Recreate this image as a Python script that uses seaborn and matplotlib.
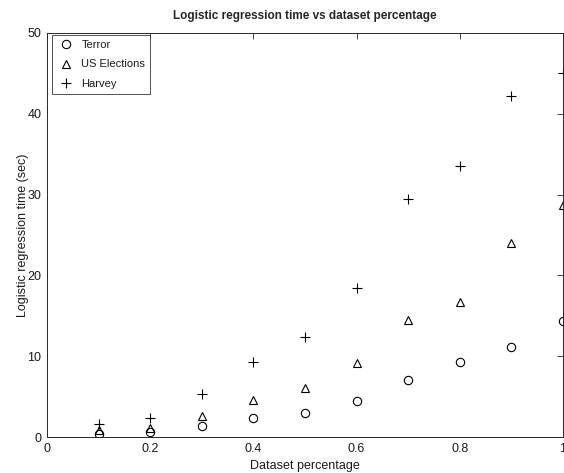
import matplotlib
matplotlib.use("Agg")
import matplotlib.pyplot as plt
import seaborn as sns
import pandas as pd

pct = [0.1, 0.2, 0.3, 0.4, 0.5, 0.6, 0.7, 0.8, 0.9, 1.0]
terror = [0.4, 0.6, 1.3, 2.3, 3.0, 4.5, 7.0, 9.3, 11.2, 14.3]
us_elections = [0.9, 1.1, 2.6, 4.6, 6.1, 9.1, 14.5, 16.7, 24.0, 28.7]
harvey = [1.6, 2.4, 5.3, 9.3, 12.4, 18.4, 29.4, 33.5, 42.2, 45.0]
series_names = ["Terror", "US Elections", "Harvey"]
xticks = [0, 0.2, 0.4, 0.6, 0.8, 1]
yticks = [0, 10, 20, 30, 40, 50]

sns.set_style("white")
plt.rcParams['font.family'] = ['Liberation Sans', 'DejaVu Sans']

fig = plt.figure(figsize=(5.64, 4.73), dpi=100)
ax = fig.add_axes([47/564, 36/473, 516/564, 404/473])

markers = ['o', '^', '+']
for name, vals, m in zip(series_names, [terror, us_elections, harvey], markers):
    df = pd.DataFrame({"x": pct, "y": vals})
    sns.lineplot(data=df, x="x", y="y", ax=ax, linestyle='', marker=m,
                 markersize=6 if m != '+' else 7, mfc='none', mec='black',
                 mew=0.8, color='black', label=name)

ax.set_xlim(0, 1)
ax.set_ylim(0, 50)
ax.set_xticks(xticks)
ax.set_xticklabels([f"{t:g}" for t in xticks])
ax.set_yticks(yticks)
ax.tick_params(direction='in', length=4, width=0.6, labelsize=9, top=True, right=True,
               colors='#262626', labelcolor='#1a1a1a', pad=4)
for s in ax.spines.values():
    s.set_linewidth(0.7)
    s.set_color('#262626')
    s.set_visible(True)
ax.set_xlabel("Dataset percentage", fontsize=9, labelpad=4, color='#1a1a1a')
ax.set_ylabel("Logistic regression time (sec)", fontsize=9, labelpad=-1, color='#1a1a1a')
ax.set_title("Logistic regression time vs dataset percentage", fontsize=8.5, fontweight='bold', pad=10)
leg = ax.legend(loc='upper left', bbox_to_anchor=(5/516, 1 - 2/404), borderaxespad=0,
                fontsize=8, frameon=True, fancybox=False, edgecolor='#262626',
                handlelength=1.6, handletextpad=0.6, labelspacing=0.85, borderpad=0.45)
leg.get_frame().set_linewidth(0.7)
for t in leg.get_texts():
    t.set_color('#1a1a1a')
fig.savefig("out.png", dpi=100)
